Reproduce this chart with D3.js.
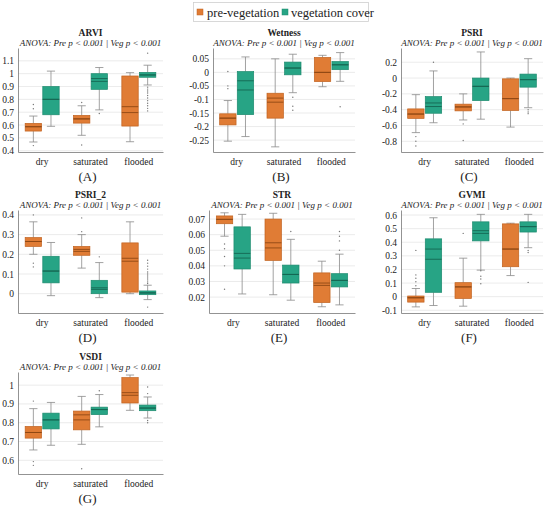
<!DOCTYPE html>
<html>
<head>
<meta charset="utf-8">
<script src="https://cdn.jsdelivr.net/npm/d3@7"></script>
<style>
  body { margin: 0; background: #fff; }
  svg text { font-family: "Liberation Serif", "DejaVu Serif", serif; fill: #222; }
  .grid line { stroke: #e6e6e6; stroke-width: 0.8; }
</style>
</head>
<body>
<div id="chart"></div>
<script>
// categories / series
const categories = ['dry', 'saturated', 'flooded'];
const seriesNames = ['pre-vegetation', 'vegetation cover'];
const tags = ['(A)', '(B)', '(C)', '(D)', '(E)', '(F)', '(G)'];
const subtitle = 'ANOVA: Pre p < 0.001 | Veg p < 0.001';

// box stats per category: [whiskerLo, q1, median, mean, q3, whiskerHi]
const arviPre = [[0.468, 0.553, 0.587, 0.587, 0.613, 0.67], [0.52, 0.615, 0.648, 0.648, 0.675, 0.75], [0.47, 0.592, 0.697, 0.743, 0.982, 1.008]];
const arviVeg = [[0.59, 0.68, 0.8, 0.8, 0.9, 1.02], [0.718, 0.878, 0.962, 0.94, 1.0, 1.048], [0.912, 0.972, 0.99, 0.99, 1.01, 1.066]];
const arviPreOut = [[0.76, 0.727, 0.44], [0.775, 0.445], []];
const arviVegOut = [[], [0.69], [1.16, 0.895, 0.88, 0.865, 0.85, 0.83, 0.81, 0.79, 0.77, 0.75, 0.73, 0.71]];
const arviTicks = [0.4, 0.5, 0.6, 0.7, 0.8, 0.9, 1, 1.1];

const wetPre = [[-0.254, -0.194, -0.169, -0.169, -0.153, -0.104], [-0.275, -0.169, -0.11, -0.095, -0.077, 0.05], [-0.053, -0.034, 0, 0, 0.055, 0.063]];
const wetVeg = [[-0.237, -0.156, -0.065, -0.031, 0.003, 0.057], [-0.075, -0.009, 0.016, 0.016, 0.038, 0.067], [-0.033, 0.01, 0.028, 0.028, 0.04, 0.073]];
const wetPreOut = [[0.003, -0.05, -0.06], [], []];
const wetVegOut = [[], [-0.092, -0.125, -0.14], [-0.127]];
const wetTicks = [-0.25, -0.2, -0.15, -0.1, -0.05, 0, 0.05];

const psriPre = [[-0.69, -0.51, -0.455, -0.455, -0.39, -0.21], [-0.53, -0.415, -0.365, -0.365, -0.33, -0.2], [-0.62, -0.41, -0.26, -0.26, -0.01, 0.0]];
const psriVeg = [[-0.565, -0.445, -0.36, -0.315, -0.235, 0.09], [-0.52, -0.285, -0.105, -0.105, 0, 0.33], [-0.375, -0.115, -0.02, -0.02, 0.05, 0.245]];
const psriPreOut = [[-0.74, -0.8, -0.86], [-0.58, -0.79], []];
const psriVegOut = [[0.2], [], [-0.4, -0.43, -0.45]];
const psriTicks = [-0.8, -0.6, -0.4, -0.2, 0, 0.2];

const psri2Pre = [[0.2, 0.24, 0.265, 0.265, 0.285, 0.365], [0.13, 0.195, 0.215, 0.225, 0.24, 0.3], [0.0, 0.008, 0.165, 0.18, 0.258, 0.365]];
const psri2Veg = [[-0.01, 0.055, 0.115, 0.115, 0.19, 0.26], [-0.02, 0.0, 0.022, 0.03, 0.068, 0.158], [-0.03, -0.005, 0.004, 0.004, 0.014, 0.043]];
const psri2PreOut = [[0.4, 0.155, 0.136], [0.385, 0.315], []];
const psri2VegOut = [[], [0.187], [0.17, 0.155, 0.14, 0.125, 0.11, 0.1, 0.09, 0.08, 0.07, 0.06, 0.052, -0.068]];
const psri2Ticks = [0, 0.1, 0.2, 0.3, 0.4];

const strPre = [[0.059, 0.067, 0.0698, 0.0698, 0.072, 0.074], [0.0215, 0.0435, 0.0515, 0.0548, 0.07, 0.0737], [0.0138, 0.0165, 0.0275, 0.029, 0.0355, 0.043]];
const strVeg = [[0.022, 0.038, 0.045, 0.048, 0.065, 0.073], [0.018, 0.029, 0.0345, 0.0345, 0.0405, 0.057], [0.015, 0.0265, 0.0307, 0.0307, 0.035, 0.0475]];
const strPreOut = [[0.054, 0.051, 0.046, 0.040, 0.025], [], []];
const strVegOut = [[], [0.062], [0.062, 0.059, 0.056, 0.050]];
const strTicks = [0.02, 0.03, 0.04, 0.05, 0.06, 0.07];

const gvmiPre = [[-0.075, -0.04, -0.008, -0.008, 0.005, 0.06], [-0.07, -0.013, 0.072, 0.072, 0.103, 0.283], [0.155, 0.22, 0.35, 0.35, 0.535, 0.54]];
const gvmiVeg = [[-0.065, 0.032, 0.275, 0.35, 0.425, 0.58], [0.195, 0.41, 0.465, 0.485, 0.55, 0.605], [0.36, 0.475, 0.515, 0.515, 0.55, 0.605]];
const gvmiPreOut = [[0.34, 0.16, 0.135, 0.11, 0.08], [0.465], []];
const gvmiVegOut = [[], [0.19, 0.15, 0.13, 0.095], [0.34, 0.325, 0.105]];
const gvmiTicks = [-0.1, 0, 0.1, 0.2, 0.3, 0.4, 0.5, 0.6];

const vsdiPre = [[0.655, 0.718, 0.748, 0.748, 0.78, 0.875], [0.685, 0.762, 0.815, 0.842, 0.862, 0.94], [0.866, 0.905, 0.946, 0.96, 1.04, 1.054]];
const vsdiVeg = [[0.68, 0.767, 0.815, 0.815, 0.851, 0.908], [0.778, 0.843, 0.87, 0.87, 0.883, 0.95], [0.825, 0.864, 0.878, 0.878, 0.894, 0.937]];
const vsdiPreOut = [[0.915, 0.593, 0.573], [0.555], []];
const vsdiVegOut = [[], [0.97], [0.99, 0.955, 0.812, 0.8]];
const vsdiTicks = [0.6, 0.7, 0.8, 0.9, 1];

const fills = ['#e07c35', '#27a485'];
const darks = ['#8e4714', '#156652'];
const edges = ['#c0621f', '#1d8a6e'];

// panel layout
const rowTop = [48, 210, 372], rowBottom = [152, 313, 474];
const colRight = [163, 355, 543];

const panels = [
  { title: 'ARVI', row: 0, col: 0, left: 18, domain: [0.39, 1.2], ticks: arviTicks, pre: arviPre, veg: arviVeg, preOut: arviPreOut, vegOut: arviVegOut },
  { title: 'Wetness', row: 0, col: 1, left: 213, domain: [-0.294, 0.09], ticks: wetTicks, pre: wetPre, veg: wetVeg, preOut: wetPreOut, vegOut: wetVegOut },
  { title: 'PSRI', row: 0, col: 2, left: 401, domain: [-0.935, 0.38], ticks: psriTicks, pre: psriPre, veg: psriVeg, preOut: psriPreOut, vegOut: psriVegOut },
  { title: 'PSRI_2', row: 1, col: 0, left: 18, domain: [-0.098, 0.425], ticks: psri2Ticks, pre: psri2Pre, veg: psri2Veg, preOut: psri2PreOut, vegOut: psri2VegOut },
  { title: 'STR', row: 1, col: 1, left: 209, domain: [0.0098, 0.0758], ticks: strTicks, pre: strPre, veg: strVeg, preOut: strPreOut, vegOut: strVegOut },
  { title: 'GVMI', row: 1, col: 2, left: 401, domain: [-0.12, 0.637], ticks: gvmiTicks, pre: gvmiPre, veg: gvmiVeg, preOut: gvmiPreOut, vegOut: gvmiVegOut },
  { title: 'VSDI', row: 2, col: 0, left: 18, domain: [0.527, 1.07], ticks: vsdiTicks, pre: vsdiPre, veg: vsdiVeg, preOut: vsdiPreOut, vegOut: vsdiVegOut }
];

const width = 550, height = 507;
const svg = d3.select('#chart').append('svg')
  .attr('width', width)
  .attr('height', height);

svg.append('rect').attr('width', width).attr('height', height).attr('fill', '#fff');

// legend
const legend = svg.append('g');
legend.append('rect')
  .attr('x', 193.5).attr('y', 2.5).attr('width', 175).attr('height', 19)
  .attr('fill', '#fff').attr('stroke', '#cfcfcf').attr('stroke-width', 0.8);
[[197, 207], [282, 291]].forEach(([sx, tx], i) => {
  legend.append('rect')
    .attr('x', sx).attr('y', 9).attr('width', 6).attr('height', 6)
    .attr('fill', fills[i]).attr('stroke', edges[i]).attr('stroke-width', 0.5);
  legend.append('text')
    .attr('x', tx).attr('y', 16.5)
    .style('font-size', '12.5px')
    .text(seriesNames[i]);
});

const fmt = d => String(+d.toFixed(3));

panels.forEach((p, idx) => {
  const top = rowTop[p.row], bottom = rowBottom[p.row], right = colRight[p.col];
  const g = svg.append('g');

  const x = d3.scaleBand().domain(categories).range([p.left, right]).paddingInner(0).paddingOuter(0);
  const inner = d3.scaleBand().domain(['pre', 'veg']).range([x.bandwidth() / 2 - 17, x.bandwidth() / 2 + 17]).paddingInner(0.07);
  const y = d3.scaleLinear().domain(p.domain).range([bottom, top]);

  // grid
  g.append('g').attr('class', 'grid')
    .selectAll('line').data(p.ticks).join('line')
    .attr('x1', p.left).attr('x2', right)
    .attr('y1', d => y(d)).attr('y2', d => y(d));

  // y axis
  const yAxis = g.append('g')
    .attr('transform', `translate(${p.left},0)`)
    .call(d3.axisLeft(y).tickValues(p.ticks).tickSize(0).tickPadding(4).tickFormat(fmt));
  yAxis.select('.domain').attr('stroke', '#777').attr('stroke-width', 0.8);
  yAxis.selectAll('text').style('font-size', '9.5px').style('font-family', '"Liberation Serif", serif');

  // x axis
  const xAxis = g.append('g')
    .attr('transform', `translate(0,${bottom})`)
    .call(d3.axisBottom(x).tickSize(0).tickPadding(6));
  xAxis.select('.domain').attr('stroke', '#777').attr('stroke-width', 0.8);
  xAxis.selectAll('text').style('font-size', '9.5px').style('font-family', '"Liberation Serif", serif');

  const cx = (p.left + right) / 2;
  g.append('text').attr('x', cx).attr('y', top - 12)
    .attr('text-anchor', 'middle').style('font-size', '9.5px').style('font-weight', 'bold')
    .text(p.title);
  g.append('text').attr('x', cx).attr('y', top - 2)
    .attr('text-anchor', 'middle').style('font-size', '9px').style('font-style', 'italic')
    .text(subtitle);
  g.append('text').attr('x', cx - 3).attr('y', bottom + 29)
    .attr('text-anchor', 'middle').style('font-size', '13px')
    .text(tags[idx]);

  [['pre', p.pre, p.preOut], ['veg', p.veg, p.vegOut]].forEach(([key, stats, outs], si) => {
    const bw = inner.bandwidth();
    const boxes = g.append('g').selectAll('g').data(stats.map((s, i) => ({ s, cat: categories[i], outs: outs[i] }))).join('g')
      .attr('transform', d => `translate(${x(d.cat) + inner(key)},0)`);

    // whiskers
    boxes.append('line').attr('x1', bw / 2).attr('x2', bw / 2)
      .attr('y1', d => y(d.s[0])).attr('y2', d => y(d.s[1]))
      .attr('stroke', '#8a8a8a').attr('stroke-width', 0.8);
    boxes.append('line').attr('x1', bw / 2).attr('x2', bw / 2)
      .attr('y1', d => y(d.s[4])).attr('y2', d => y(d.s[5]))
      .attr('stroke', '#8a8a8a').attr('stroke-width', 0.8);
    // caps
    [0, 5].forEach(k => {
      boxes.append('line').attr('x1', bw / 4).attr('x2', bw * 3 / 4)
        .attr('y1', d => y(d.s[k])).attr('y2', d => y(d.s[k]))
        .attr('stroke', '#8a8a8a').attr('stroke-width', 0.8);
    });
    // box
    boxes.append('rect')
      .attr('x', 0).attr('width', bw)
      .attr('y', d => y(d.s[4]))
      .attr('height', d => Math.max(1, y(d.s[1]) - y(d.s[4])))
      .attr('fill', fills[si]).attr('stroke', edges[si]).attr('stroke-width', 0.7);
    // median and mean lines
    [2, 3].forEach(k => {
      boxes.append('line').attr('x1', 0).attr('x2', bw)
        .attr('y1', d => y(d.s[k])).attr('y2', d => y(d.s[k]))
        .attr('stroke', darks[si]).attr('stroke-width', 0.9);
    });
    // outliers
    boxes.selectAll('circle').data(d => d.outs).join('circle')
      .attr('cx', bw / 2).attr('cy', d => y(d)).attr('r', 0.7)
      .attr('fill', '#777');
  });
});
</script>
</body>
</html>
